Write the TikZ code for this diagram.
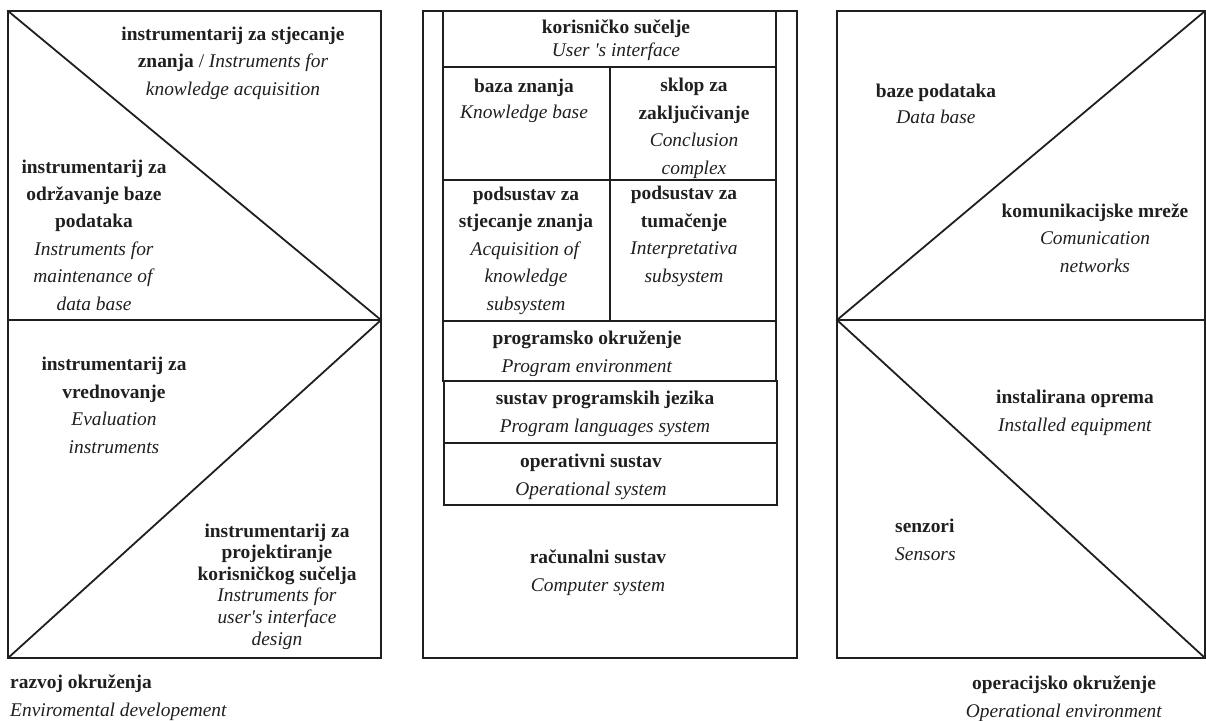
\documentclass[tikz,border=0pt]{standalone}
\usepackage{fontspec}
\setmainfont{Liberation Serif}
\begin{document}
\begin{tikzpicture}[x=1pt,y=-1pt,
  ln/.style={line width=1.8pt, draw=black!88, line join=miter},
  lbl/.style={inner sep=0pt, align=center, anchor=base, text=black!88,
    font=\fontsize{19.4}{27.4}\selectfont},
  lbll/.style={lbl, align=left, anchor=base west}]
\useasboundingbox (0,0) rectangle (1206,720);
% ---- left block
\draw[ln] (8,11) rectangle (381,658);
\draw[ln] (8,320) -- (381,320);
\draw[ln] (8,11) -- (381,320) -- (8,658);
% ---- middle block
\draw[ln] (423,11) rectangle (797,658);
\draw[ln] (443,11) rectangle (776,67);
\draw[ln] (443,67) rectangle (776,321);
\draw[ln] (443,180) -- (776,180);
\draw[ln] (610,67) -- (610,321);
\draw[ln] (443,321) rectangle (776,381);
\draw[ln] (444,381) rectangle (777,443);
\draw[ln] (444,443) rectangle (777,505);
% ---- right block
\draw[ln] (837,11) rectangle (1205,658);
\draw[ln] (837,320) -- (1205,320);
\draw[ln] (1205,11) -- (837,320) -- (1205,658);
% ---- left texts (anchor = baseline of last line)
\node[lbl] (acq) at (233,95) {\textbf{instrumentarij za stjecanje}\\\textbf{znanja} / \textit{Instruments for}\\\textit{knowledge acquisition}};
\node[lbl] (mnt) at (94,310) {\textbf{instrumentarij za}\\\textbf{održavanje baze}\\\textbf{podataka}\\\textit{Instruments for}\\\textit{maintenance of}\\\textit{data base}};
\node[lbl] (evl) at (114,453) {\textbf{instrumentarij za}\\\textbf{vrednovanje}\\\textit{Evaluation}\\\textit{instruments}};
\node[lbl, font=\fontsize{19.4}{21.6}\selectfont] (dsg) at (277,645) {\textbf{instrumentarij za}\\\textbf{projektiranje}\\\textbf{korisničkog sučelja}\\\textit{Instruments for}\\\textit{user\textquotesingle s interface}\\\textit{design}};
\node[lbll] (env) at (10,716) {\textbf{razvoj okruženja}\\\textit{Enviromental developement}};
% ---- middle texts
\node[lbl, font=\fontsize{19.4}{23}\selectfont] (ui) at (616,56) {\textbf{korisničko sučelje}\\\textit{User \textquotesingle s interface}};
\node[lbl, font=\fontsize{19.4}{26}\selectfont] (kb) at (524,118) {\textbf{baza znanja}\\\textit{Knowledge base}};
\node[lbl] (cc) at (694,174) {\textbf{sklop za}\\\textbf{zaključivanje}\\\textit{Conclusion}\\\textit{complex}};
\node[lbl] (aks) at (526,310) {\textbf{podsustav za}\\\textbf{stjecanje znanja}\\\textit{Acquisition of}\\\textit{knowledge}\\\textit{subsystem}};
\node[lbl] (its) at (684,282) {\textbf{podsustav za}\\\textbf{tumačenje}\\\textit{Interpretativa}\\\textit{subsystem}};
\node[lbl] (pe) at (587,372) {\textbf{programsko okruženje}\\\textit{Program environment}};
\node[lbl] (pls) at (605,432) {\textbf{sustav programskih jezika}\\\textit{Program languages system}};
\node[lbl] (os) at (591,495) {\textbf{operativni sustav}\\\textit{Operational system}};
\node[lbl] (cs) at (598,591) {\textbf{računalni sustav}\\\textit{Computer system}};
% ---- right texts
\node[lbl, font=\fontsize{19.4}{26}\selectfont] (db) at (936,123) {\textbf{baze podataka}\\\textit{Data base}};
\node[lbl] (cn) at (1095,272) {\textbf{komunikacijske mreže}\\\textit{Comunication}\\\textit{networks}};
\node[lbl] (ie) at (1075,431) {\textbf{instalirana oprema}\\\textit{Installed equipment}};
\node[lbll] (sen) at (895,560) {\textbf{senzori}\\\textit{Sensors}};
\node[lbl] (oe) at (1064,717) {\textbf{operacijsko okruženje}\\\textit{Operational environment}};
\end{tikzpicture}
\end{document}
